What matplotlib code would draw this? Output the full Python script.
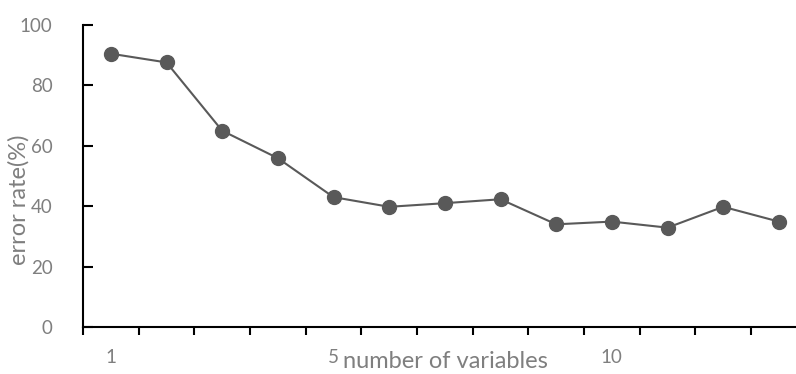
import matplotlib
matplotlib.use("Agg")
import matplotlib.pyplot as plt
from matplotlib.ticker import FixedLocator, NullFormatter

categories = list(range(1, 14))
error_rate = [90.5, 87.6, 65.0, 55.9, 43.0, 39.8, 41.0, 42.3, 34.0, 34.9, 32.9, 39.8, 34.9]
shown_labels = {1: "1", 5: "5", 10: "10"}
yticks = [0, 20, 40, 60, 80, 100]

plt.rcParams['font.family'] = ['Lato', 'DejaVu Sans']
txt_color = '#7f7f7f'
line_color = '#595959'
fs_tick = 13.5
fs_lab = 17

fig = plt.figure(figsize=(7.96, 3.74), dpi=100)
W, H = 796, 374
left, right, top, bottom = 83, 806.7, 25, 327
ax = fig.add_axes([left / W, 1 - bottom / H, (right - left) / W, (bottom - top) / H])

x = list(range(len(categories)))
ax.plot(x, error_rate, color=line_color, lw=1.5, marker='o', markersize=10,
        markerfacecolor=line_color, markeredgecolor=line_color, clip_on=False)

ax.set_xlim(-0.5, len(categories) - 0.5)
ax.set_ylim(0, 100)
ax.set_yticks(yticks)
ax.set_yticklabels([str(v) for v in yticks])

ax.xaxis.set_major_locator(FixedLocator([i - 0.5 for i in range(len(categories) + 1)]))
ax.xaxis.set_major_formatter(NullFormatter())
lab_pos = [categories.index(k) for k in shown_labels]
ax.xaxis.set_minor_locator(FixedLocator(lab_pos))
ax.set_xticks(lab_pos, minor=True)
ax.set_xticklabels(list(shown_labels.values()), minor=True)
ax.tick_params(axis='x', which='major', direction='out', length=6, width=1.5, color='black')
ax.tick_params(axis='x', which='minor', length=0, pad=16, labelsize=fs_tick, labelcolor=txt_color)
ax.tick_params(axis='y', direction='in', length=7, width=1.5, color='black',
               pad=22, labelsize=fs_tick, labelcolor=txt_color)

for s in ['top', 'right']:
    ax.spines[s].set_visible(False)
for s in ['left', 'bottom']:
    ax.spines[s].set_color('black')
    ax.spines[s].set_linewidth(1.5)

fig.text(19 / W, 1 - 200 / H, 'error rate(%)', rotation=90, ha='center', va='center',
         fontsize=fs_lab, color=txt_color)
fig.text(445 / W, 1 - 362 / H, 'number of variables', ha='center', va='center',
         fontsize=fs_lab, color=txt_color)

fig.savefig('out.png', dpi=100)
